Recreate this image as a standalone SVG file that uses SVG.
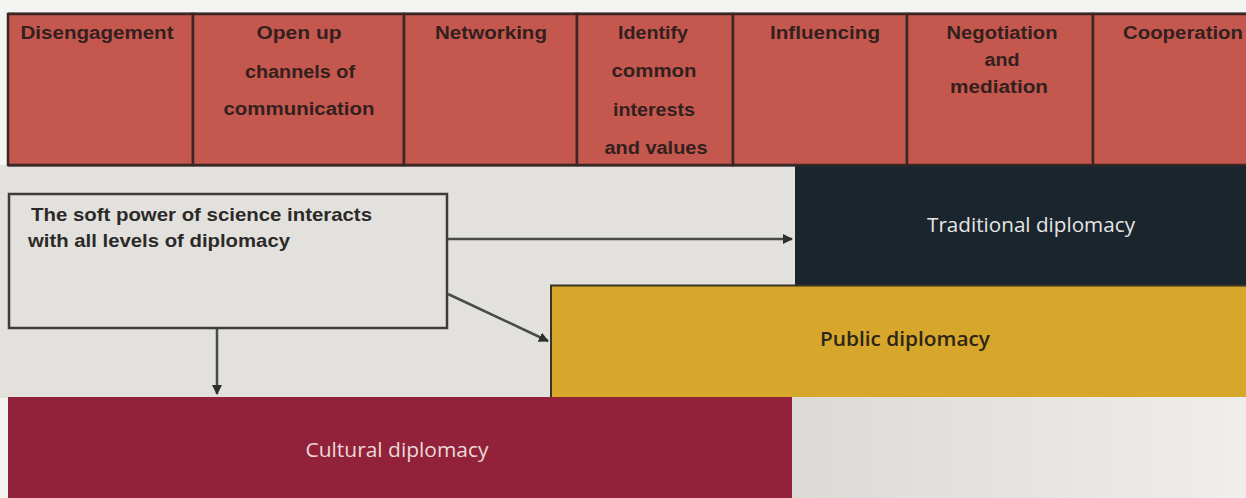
<svg xmlns="http://www.w3.org/2000/svg" width="1246" height="498" viewBox="0 0 1246 498">
  <defs>
    <marker id="arrow" viewBox="0 0 10 10" refX="9" refY="5" markerWidth="4" markerHeight="4" orient="auto" markerUnits="strokeWidth">
      <path d="M0,0 L10,5 L0,10 z" fill="#2f2f2f"/>
    </marker>
    <linearGradient id="paleFade" x1="0" y1="0" x2="1" y2="0">
      <stop offset="0" stop-color="#dcdad7"/>
      <stop offset="1" stop-color="#efeeec"/>
    </linearGradient>
    <style>
      .cell { fill: #c5584e; stroke: #3a2624; stroke-width: 2.5; }
      .step { font-family: "Liberation Sans", Arial, sans-serif; font-weight: bold; font-size: 18px; fill: #33201e; text-anchor: middle; }
      .note { font-family: "Liberation Sans", Arial, sans-serif; font-weight: bold; font-size: 19px; fill: #2c2a28; }
      .level { font-family: "Open Sans", "Noto Sans", sans-serif; font-size: 20px; text-anchor: middle; }
      .link { fill: none; stroke: #4a4a4a; stroke-width: 2.5; marker-end: url(#arrow); }
    </style>
  </defs>

  <!-- page background -->
  <rect x="0" y="0" width="1246" height="498" fill="#f4f4f3"/>
  <rect x="0" y="165" width="1246" height="233" fill="#e3e1dd"/>

  <!-- row of diplomatic steps -->
  <g id="steps">
    <rect x="8" y="14" width="1250" height="151" fill="#c5584e"/>
    <line x1="8" y1="14" x2="1246" y2="14" stroke="#4a3b38" stroke-width="3"/>
    <line x1="8" y1="165" x2="1246" y2="165" stroke="#2f2220" stroke-width="3"/>
  </g>
  <g id="step-disengagement">
    <rect class="cell" x="8" y="14" width="185" height="151"/>
    <text class="step" x="97" y="39" textLength="153" lengthAdjust="spacingAndGlyphs">Disengagement</text>
  </g>
  <g id="step-open-channels">
    <rect class="cell" x="193" y="14" width="211" height="151"/>
    <text class="step" x="299" y="39" textLength="85" lengthAdjust="spacingAndGlyphs">Open up</text>
    <text class="step" x="300" y="78" textLength="110" lengthAdjust="spacingAndGlyphs">channels of</text>
    <text class="step" x="299" y="115" textLength="151" lengthAdjust="spacingAndGlyphs">communication</text>
  </g>
  <g id="step-networking">
    <rect class="cell" x="404" y="14" width="173" height="151"/>
    <text class="step" x="491" y="39" textLength="112" lengthAdjust="spacingAndGlyphs">Networking</text>
  </g>
  <g id="step-common-interests">
    <rect class="cell" x="577" y="14" width="156" height="151"/>
    <text class="step" x="653" y="39" textLength="70" lengthAdjust="spacingAndGlyphs">Identify</text>
    <text class="step" x="654" y="77" textLength="85" lengthAdjust="spacingAndGlyphs">common</text>
    <text class="step" x="654" y="116" textLength="82" lengthAdjust="spacingAndGlyphs">interests</text>
    <text class="step" x="656" y="154" textLength="103" lengthAdjust="spacingAndGlyphs">and values</text>
  </g>
  <g id="step-influencing">
    <rect class="cell" x="733" y="14" width="174" height="151"/>
    <text class="step" x="825" y="39" textLength="110" lengthAdjust="spacingAndGlyphs">Influencing</text>
  </g>
  <g id="step-negotiation">
    <rect class="cell" x="907" y="14" width="186" height="151"/>
    <text class="step" x="1002" y="39" textLength="111" lengthAdjust="spacingAndGlyphs">Negotiation</text>
    <text class="step" x="1002" y="66" textLength="35" lengthAdjust="spacingAndGlyphs">and</text>
    <text class="step" x="999" y="93" textLength="98" lengthAdjust="spacingAndGlyphs">mediation</text>
  </g>
  <g id="step-cooperation">
    <rect class="cell" x="1093" y="14" width="170" height="151"/>
    <text class="step" x="1183" y="39" textLength="120" lengthAdjust="spacingAndGlyphs">Cooperation</text>
  </g>

  <!-- levels of diplomacy -->
  <g id="traditional-diplomacy">
    <rect x="795" y="166" width="451" height="119" fill="#1b252d"/>
    <text class="level" x="1031" y="232" fill="#e4e6e6" textLength="208" lengthAdjust="spacingAndGlyphs">Traditional diplomacy</text>
  </g>
  <g id="public-diplomacy">
    <rect x="550" y="285" width="700" height="112" fill="#d7a72c"/>
    <path d="M551,397 V285.5 H1246" fill="none" stroke="#3a3428" stroke-width="2"/>
    <text class="level" x="905" y="346" fill="#2c2616" font-weight="600" textLength="170" lengthAdjust="spacingAndGlyphs">Public diplomacy</text>
  </g>
  <g id="cultural-diplomacy">
    <rect x="8" y="397" width="784" height="101" fill="#922239"/>
    <text class="level" x="397" y="457" fill="#ead8dc" textLength="183" lengthAdjust="spacingAndGlyphs">Cultural diplomacy</text>
  </g>
  <g id="blank-corner">
    <rect x="792" y="397" width="454" height="101" fill="url(#paleFade)"/>
  </g>

  <!-- science note -->
  <g id="science-note">
    <rect x="9" y="194" width="438" height="134" fill="#e3e1dd" stroke="#3e3c3a" stroke-width="2.5"/>
    <text class="note" x="31" y="221" textLength="341" lengthAdjust="spacingAndGlyphs">The soft power of science interacts</text>
    <text class="note" x="28" y="247" textLength="262" lengthAdjust="spacingAndGlyphs">with all levels of diplomacy</text>
  </g>

  <!-- connectors -->
  <g id="connectors">
    <line class="link" x1="448" y1="239" x2="792" y2="239"/>
    <line class="link" x1="448" y1="294" x2="548" y2="341"/>
    <line class="link" x1="217" y1="329" x2="217" y2="394"/>
  </g>
</svg>
